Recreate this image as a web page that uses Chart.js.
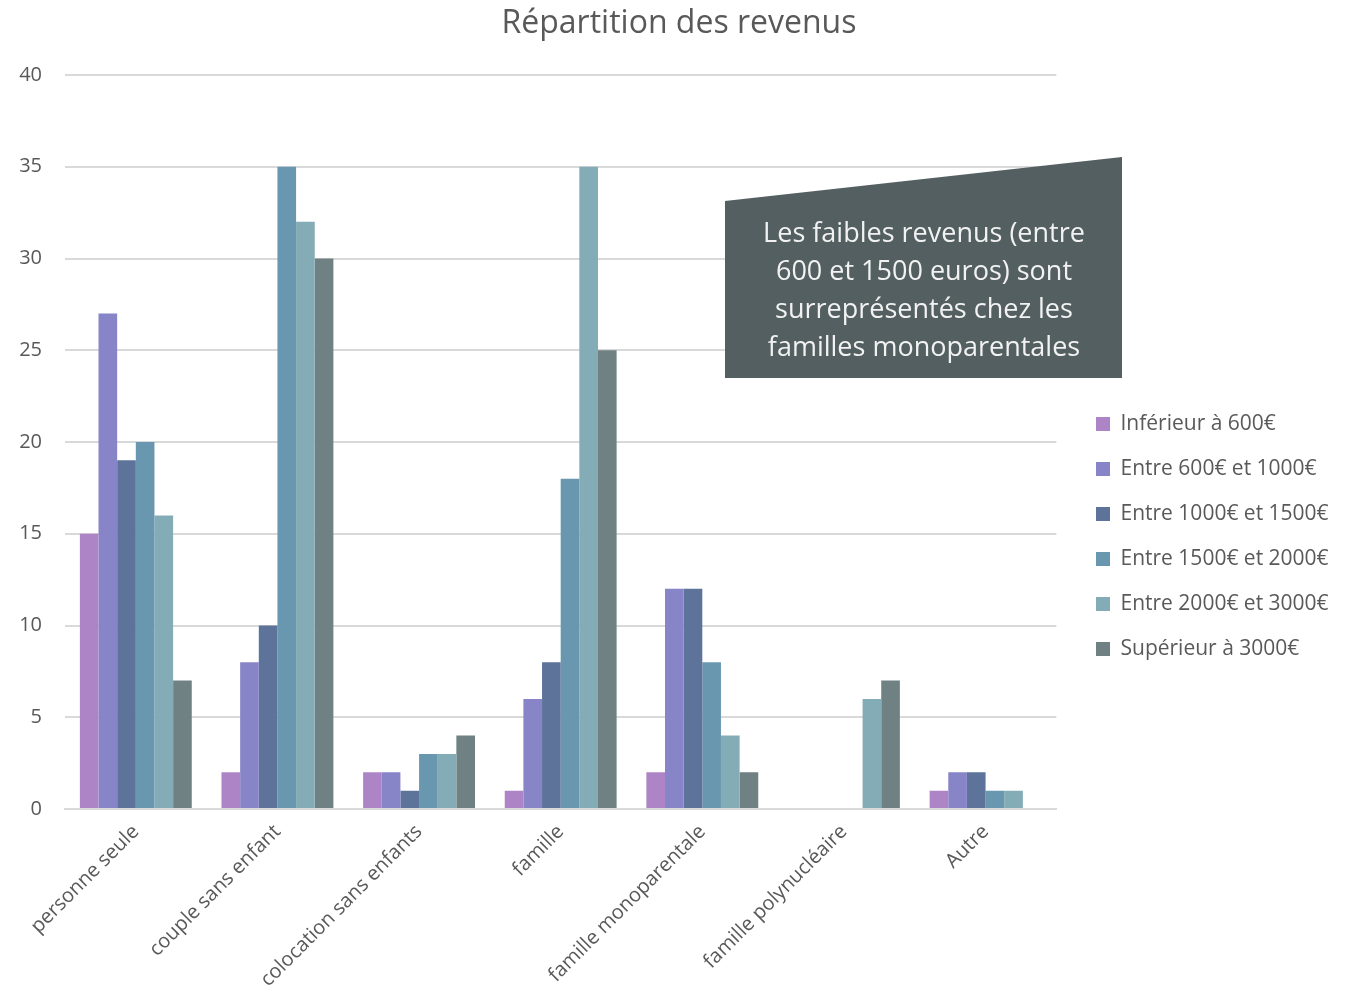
<!DOCTYPE html>
<html>
<head>
<meta charset="utf-8">
<script src="https://cdn.jsdelivr.net/npm/chart.js@4"></script>
<style>
  html, body { margin: 0; padding: 0; background: #fff; }
  #wrap { width: 1358px; height: 1001px; }
</style>
</head>
<body>
<div id="wrap"><canvas id="revenus"></canvas></div>
<script>
var categories = ['personne seule', 'couple sans enfant', 'colocation sans enfants', 'famille',
  'famille monoparentale', 'famille polynucléaire', 'Autre'];
var seriesNames = ['Inférieur à 600€', 'Entre 600€ et 1000€', 'Entre 1000€ et 1500€',
  'Entre 1500€ et 2000€', 'Entre 2000€ et 3000€', 'Supérieur à 3000€'];
var inf600 = [15, 2, 2, 1, 2, 0, 1];
var e600_1000 = [27, 8, 2, 6, 12, 0, 2];
var e1000_1500 = [19, 10, 1, 8, 12, 0, 2];
var e1500_2000 = [20, 35, 3, 18, 8, 0, 1];
var e2000_3000 = [16, 32, 3, 35, 4, 6, 1];
var sup3000 = [7, 30, 4, 25, 2, 7, 0];
var yTicks = [0, 5, 10, 15, 20, 25, 30, 35, 40];
var colors = ['#ad84c6', '#8784c7', '#5d739a', '#6997af', '#84acb6', '#6f8183'];
var note = ['Les faibles revenus (entre', '600 et 1500 euros) sont', 'surreprésentés chez les', 'familles monoparentales'];

var FONT = "'Open Sans', sans-serif";
var values = [inf600, e600_1000, e1000_1500, e1500_2000, e2000_3000, sup3000];

// encadré de commentaire
var calloutPlugin = {
  id: 'callout',
  beforeDraw: function(chart) {
    // place la légende et le titre comme dans l'original
    var lg = chart.legend;
    var h = lg.bottom - lg.top;
    var w = lg.right - lg.left;
    lg.top = 389.5; lg.bottom = lg.top + h;
    lg.left = 1072; lg.right = lg.left + w;
    var t = chart.titleBlock;
    t.left = 0; t.right = 1358;
  },
  afterDraw: function(chart) {
    var ctx = chart.ctx;
    ctx.save();
    ctx.fillStyle = '#535f60';
    ctx.beginPath();
    ctx.moveTo(725, 201);
    ctx.lineTo(1122, 157);
    ctx.lineTo(1122, 378);
    ctx.lineTo(725, 378);
    ctx.closePath();
    ctx.fill();
    ctx.fillStyle = '#f2f2f2';
    ctx.font = '27px ' + FONT;
    ctx.textAlign = 'center';
    ctx.textBaseline = 'middle';
    note.forEach(function(line, i) {
      ctx.fillText(line, 924, 234 + i * 38);
    });
    ctx.restore();
  }
};

new Chart(document.getElementById('revenus'), {
  type: 'bar',
  data: {
    labels: categories,
    datasets: seriesNames.map(function(name, i) {
      return {
        label: name,
        data: values[i],
        backgroundColor: colors[i],
        borderWidth: 0,
        categoryPercentage: 0.79,
        barPercentage: 1
      };
    })
  },
  options: {
    responsive: true,
    maintainAspectRatio: false,
    animation: false,
    layout: { padding: { left: 0, right: 35, top: 0, bottom: 0 } },
    plugins: {
      title: {
        display: true,
        text: 'Répartition des revenus',
        color: '#595959',
        font: { family: FONT, size: 32, weight: 'normal' },
        padding: { top: 5, bottom: 31.6 }
      },
      legend: {
        position: 'right',
        align: 'start',
        labels: {
          color: '#595959',
          font: { family: FONT, size: 21 },
          boxWidth: 14,
          boxHeight: 14,
          padding: 24
        }
      },
      tooltip: { enabled: false }
    },
    scales: {
      x: {
        afterFit: function(axis) { axis.height = 192; },
        grid: { display: false },
        border: { color: '#d9d9d9', width: 2 },
        ticks: {
          color: '#595959',
          font: { family: FONT, size: 20 },
          minRotation: 45,
          maxRotation: 45
        }
      },
      y: {
        min: 0,
        max: 40,
        afterBuildTicks: function(axis) {
          axis.ticks = yTicks.map(function(v) { return { value: v }; });
        },
        afterFit: function(axis) { axis.width = 65; },
        grid: { color: '#d9d9d9', lineWidth: 2, drawTicks: false },
        border: { display: false },
        ticks: {
          color: '#595959',
          font: { family: FONT, size: 20 },
          padding: 23
        }
      }
    }
  },
  plugins: [calloutPlugin]
});
</script>
</body>
</html>
